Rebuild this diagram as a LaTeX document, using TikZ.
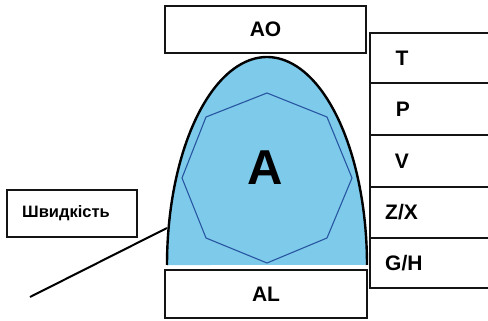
\documentclass[tikz,border=0pt]{standalone}
\usepackage{fontspec}
\setmainfont{Liberation Sans}
\definecolor{domeblue}{RGB}{125,202,235}
\definecolor{octblue}{RGB}{40,85,160}
\definecolor{ink}{RGB}{20,20,20}
\begin{document}
\begin{tikzpicture}[x=1pt,y=-1pt,
  labelbox/.style={draw=ink, line width=2pt, fill=white, inner sep=0pt, font=\bfseries\fontsize{21}{21}\selectfont},
  celltext/.style={font=\bfseries\fontsize{21}{21}\selectfont, inner sep=0pt},
  gridline/.style={draw=ink, line width=2pt},
  octline/.style={draw=octblue, line width=1.1pt},
  domeline/.style={draw=black, line width=2.4pt},
  pointer/.style={draw=black, line width=2pt}]
\useasboundingbox (0,0) rectangle (488,321);
% dome
\fill[domeblue] plot[domain=180:0, samples=90] ({267+100*cos(\x)}, {265-208*sin(\x)}) -- cycle;
\draw[domeline] plot[domain=180:0, samples=90] ({267+100*cos(\x)}, {265-208*sin(\x)});
% octagon
\draw[octline] (267,93) -- (327,117) -- (352,178) -- (327,238) -- (267,263) -- (206,238) -- (182,178) -- (206,117) -- cycle;
\node[font=\bfseries\fontsize{49}{49}\selectfont, inner sep=0pt] (a) at (265,168) {A};
% boxes
\node[labelbox, minimum width=201pt, minimum height=47pt] (ao) at (265.5,29.5) {AO};
\node[labelbox, minimum width=202pt, minimum height=48pt] (al) at (266,294) {AL};
\node[labelbox, minimum width=130pt, minimum height=47pt] (spd) at (72,213.5) {};
\node[font=\bfseries\fontsize{16.5}{16.5}\selectfont, inner sep=0pt] (spdtext) at (66,213) {Швидкість};
% right column
\draw[gridline] (370,33) -- (370,288);
\foreach \yy in {33,83,135,187,238,288} { \draw[gridline] (369,\yy) -- (490,\yy); }
\node[celltext] (t) at (402,58) {T};
\node[celltext] (p) at (403,109) {P};
\node[celltext] (v) at (402,161) {V};
\node[celltext, anchor=west] (zx) at (385,212.5) {Z/X};
\node[celltext, anchor=west] (gh) at (385,263) {G/H};
% pointer
\coordinate (pfree) at (30,297);
\coordinate (pdome) at (167,228);
\draw[pointer] (pfree) -- (pdome);
\end{tikzpicture}
\end{document}
